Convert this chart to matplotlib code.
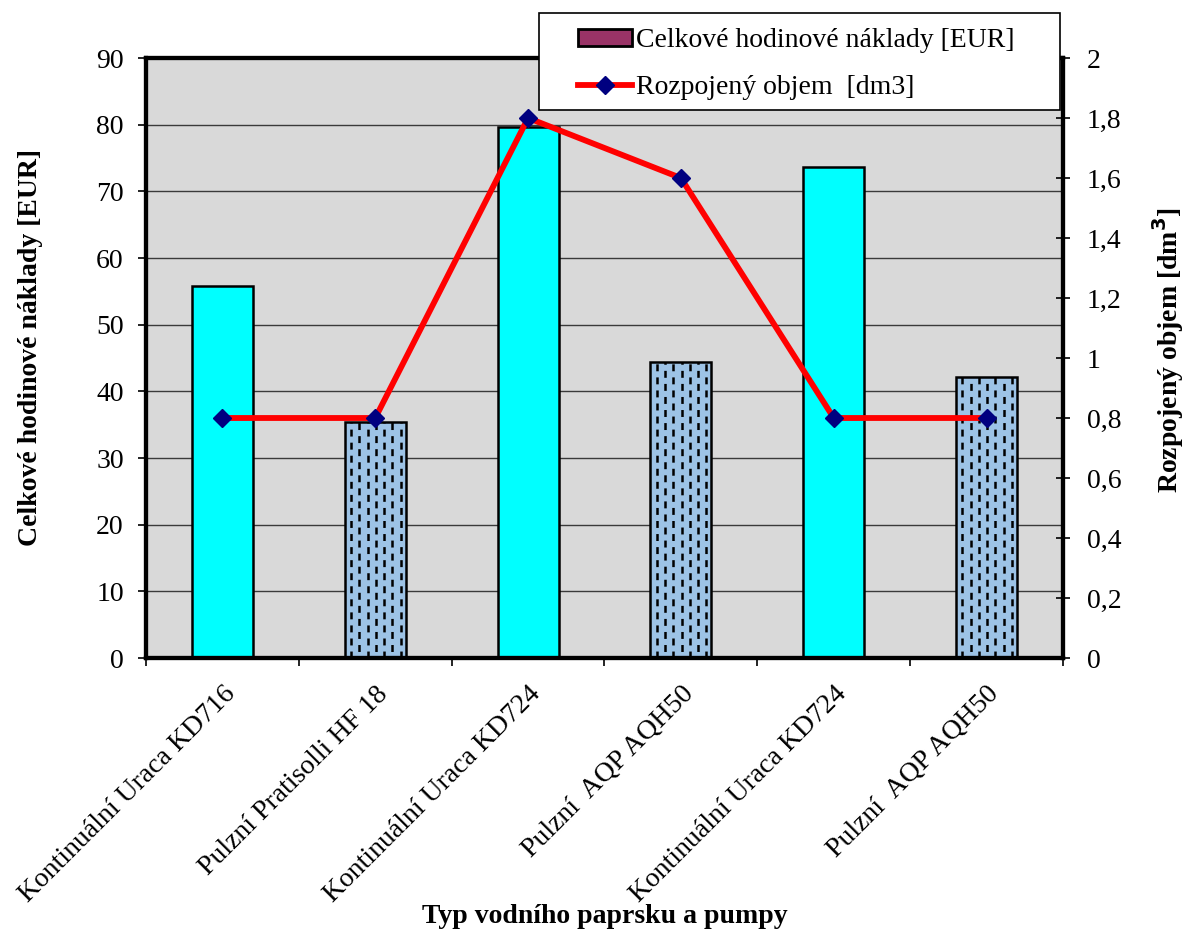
import matplotlib
matplotlib.use("Agg")
import matplotlib.pyplot as plt
from matplotlib.patches import Patch, Rectangle
from matplotlib.ticker import FuncFormatter, MultipleLocator
import numpy as np

plt.rcParams['font.family'] = ['Liberation Serif', 'DejaVu Serif']
plt.rcParams['lines.scale_dashes'] = False

categories = [
    "Kontinuální Uraca KD716",
    "Pulzní Pratisolli HF 18",
    "Kontinuální Uraca KD724",
    "Pulzní  AQP AQH50",
    "Kontinuální Uraca KD724",
    "Pulzní  AQP AQH50",
]
costs_eur = [55.8, 35.4, 79.6, 44.4, 73.6, 42.1]
volume_dm3 = [0.8, 0.8, 1.8, 1.6, 0.8, 0.8]
pulsed = [False, True, False, True, False, True]

W, H = 1188, 933
fig = plt.figure(figsize=(W / 100, H / 100), dpi=100)
ax = fig.add_axes([146 / W, 1 - 658 / H, (1063 - 146) / W, (658 - 58) / H])
ax.set_facecolor('#D9D9D9')

x = np.arange(len(categories))
colors = ['#9DC3E6' if p else '#00FFFF' for p in pulsed]
bars = ax.bar(x, costs_eur, width=0.4, color=colors, edgecolor='black', linewidth=1.8, zorder=2)

# staggered dashed hatching on the pulsed-pump bars
for b, p in zip(bars, pulsed):
    if not p:
        continue
    x0, w, h = b.get_x(), b.get_width(), b.get_height()
    for k in range(7):
        xi = x0 + w * (0.105 + 0.135 * k)
        ln, = ax.plot([xi, xi], [0, h], color='black', lw=1.8,
                      linestyle=(4.7 * (k % 2), (5.0, 4.4)), zorder=3,
                      solid_capstyle='butt', dash_capstyle='butt')
        ln.set_clip_path(b)

ax.set_xlim(-0.5, len(categories) - 0.5)
ax.set_ylim(0, 90)
ax.yaxis.set_major_locator(MultipleLocator(10))
ax.grid(axis='y', color='#3A3A3A', linewidth=1.0)
ax.set_axisbelow(True)
ax.set_xticks(np.arange(len(categories) + 1) - 0.5)
ax.set_xticklabels([])
ax.set_xticks(x, minor=True)
ax.set_xticklabels(categories, minor=True, rotation=45, ha='right',
                   rotation_mode='anchor', fontsize=20)
ax.tick_params(axis='x', which='minor', length=0, pad=17)
ax.tick_params(axis='x', which='major', length=6, width=1.2, direction='out')
ax.tick_params(axis='y', labelsize=20, length=6, width=1.2, direction='out', pad=10)
for s in ax.spines.values():
    s.set_linewidth(3)
ax.set_ylabel("Celkové hodinové náklady [EUR]", fontsize=20, fontweight='bold')
ax.yaxis.set_label_coords(-0.1123, 0.517)
ax.set_xlabel("Typ vodního paprsku a pumpy", fontsize=20, fontweight='bold')
ax.xaxis.set_label_coords(0.5, -0.41)

ax2 = ax.twinx()
line, = ax2.plot(x, volume_dm3, color='#FF0000', linewidth=4.2, marker='D',
                 markersize=9, markerfacecolor='#000080', markeredgecolor='#000080',
                 zorder=5)
ax2.set_ylim(0, 2)
ax2.yaxis.set_major_locator(MultipleLocator(0.2))
ax2.yaxis.set_major_formatter(
    FuncFormatter(lambda v, _: f"{v:.1f}".rstrip('0').rstrip('.').replace('.', ',')))
ax2.tick_params(axis='y', labelsize=20, length=10, width=1.2, direction='inout', pad=12)
for s in ax2.spines.values():
    s.set_linewidth(3)
ax2.set_ylabel("Rozpojený objem [dm$^\\mathbf{3}$]", fontsize=20, fontweight='bold')
ax2.yaxis.set_label_coords(1.0955, 0.513)

# legend box
fig.add_artist(Rectangle((539 / W, 1 - 110 / H), (1060 - 539) / W, (110 - 13) / H,
                         transform=fig.transFigure, facecolor='white',
                         edgecolor='black', linewidth=1.2, zorder=4))
bar_handle = Patch(facecolor='#993366', edgecolor='black', linewidth=2)
leg = fig.legend([bar_handle, line],
                 ["Celkové hodinové náklady [EUR]", "Rozpojený objem  [dm3]"],
                 loc='upper left', bbox_to_anchor=(578 / W, 1 - 28 / H),
                 fontsize=20, frameon=False, borderpad=0, borderaxespad=0,
                 labelspacing=0.8, handlelength=1.95, handleheight=0.55,
                 handletextpad=0.12)
leg.set_zorder(5)

fig.savefig("out.png", dpi=100)
